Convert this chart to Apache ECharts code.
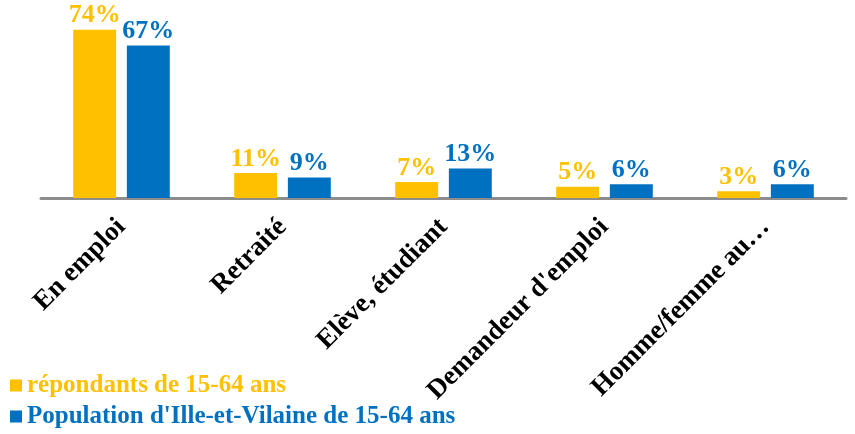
<!doctype html>
<html lang="fr">
<head>
<meta charset="utf-8"/>
<title>Situation professionnelle</title>
<style>
  html, body { margin: 0; padding: 0; background: #fff; }
  #chart { width: 855px; height: 434px; }
</style>
</head>
<body>
<div id="chart"></div>
<script src="https://cdn.jsdelivr.net/npm/echarts@6/dist/echarts.min.js"></script>
<script>
  const categories = ["En emploi", "Retraité", "Elève, étudiant", "Demandeur d'emploi", "Homme/femme au…"];
  const respondants = [74, 11, 7, 5, 3];
  const population = [67, 9, 13, 6, 6];
  const seriesNames = ["répondants de 15-64 ans", "Population d'Ille-et-Vilaine de 15-64 ans"];
  const colors = ["#FFC000", "#0070C0"];

  const serif = '"Liberation Serif", "Times New Roman", serif';
  const chart = echarts.init(document.getElementById("chart"), null, { renderer: "canvas" });

  const mkSeries = (i, data) => ({
    name: seriesNames[i],
    type: "bar",
    data,
    barGap: "25%",
    barCategoryGap: "40%",
    itemStyle: { color: colors[i] },
    label: {
      show: true,
      position: "top",
      distance: 1,
      formatter: "{c}%",
      color: colors[i],
      fontFamily: serif,
      fontWeight: "bold",
      fontSize: 26,
    },
  });

  chart.setOption({
    animation: false,
    grid: { left: 41, right: 9, top: 16, height: 182 },
    legend: {
      orient: "vertical",
      left: 5,
      top: 368,
      icon: "rect",
      itemWidth: 12,
      itemHeight: 12,
      itemGap: 6,
      data: seriesNames.map((n, i) => ({
        name: n,
        textStyle: { color: colors[i] },
      })),
      textStyle: { fontFamily: serif, fontWeight: "bold", fontSize: 25 },
    },
    xAxis: {
      type: "category",
      data: categories,
      axisLine: { lineStyle: { color: "#8c8c8c", width: 3 } },
      axisTick: { show: false },
      axisLabel: {
        interval: 0,
        rotate: 45,
        margin: 25,
        color: "#000",
        fontFamily: serif,
        fontWeight: "bold",
        fontSize: 27,
      },
    },
    yAxis: {
      type: "value",
      min: 0,
      max: 80,
      show: false,
      splitLine: { show: false },
    },
    series: [mkSeries(0, respondants), mkSeries(1, population)],
  });
</script>
</body>
</html>
